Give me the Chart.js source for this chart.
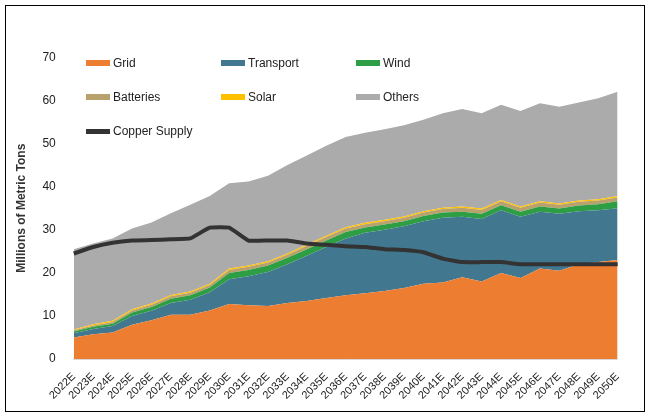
<!DOCTYPE html>
<html><head><meta charset="utf-8">
<script src="https://cdn.jsdelivr.net/npm/chart.js@4"></script>
<style>
body{margin:0;background:#fff;font-family:"Liberation Sans",Arial,sans-serif;}
#frame{position:absolute;left:5px;top:5px;width:638px;height:405px;border:1px solid #000;}
#wrap{position:absolute;left:10px;top:40px;width:620px;height:365px;}
.lg{position:absolute;font-size:12px;color:#222;display:flex;align-items:center;}
.sw{display:inline-block;width:24px;height:6px;margin-right:3px;}
</style></head>
<body>
<div id="frame"></div>
<div id="wrap"><canvas id="c"></canvas></div>
<div id="legend"></div>
<script>
var years = [];
for (var y = 2022; y <= 2050; y++) years.push(y + "E");
var grid = [5,5.8,6.2,8,9,10.3,10.3,11.3,12.8,12.5,12.3,13,13.5,14.2,14.8,15.3,15.8,16.5,17.5,17.8,19,18,20,18.8,21,20.5,22,22.5,23];
var transport = [1,1.2,1.5,2,2.2,2.7,3.5,4.2,5.7,6.7,7.9,9,10.5,11.8,13.2,14,14.2,14.3,14.5,15,14,14.5,14.5,14.2,13.2,13.2,12.3,12,12];
var wind = [0.4,0.5,0.5,0.8,0.9,1,1,1.1,1.5,1.5,1.5,1.5,1.5,1.5,1.5,1.2,1.2,1.2,1.2,1.2,1.2,1.2,1.2,1.2,1.2,1.2,1.3,1.4,1.6];
var batteries = [0.3,0.3,0.4,0.5,0.5,0.6,0.6,0.6,0.7,0.7,0.7,0.7,0.8,0.8,0.8,0.8,0.8,0.8,0.8,0.8,0.9,0.9,0.9,0.9,0.9,0.9,0.9,0.9,0.9];
var solar = [0.2,0.3,0.3,0.3,0.3,0.3,0.3,0.3,0.3,0.3,0.3,0.3,0.3,0.3,0.3,0.3,0.3,0.3,0.3,0.3,0.3,0.3,0.3,0.3,0.3,0.3,0.3,0.3,0.3];
var others = [18.6,18.7,19.1,18.7,18.8,18.9,20.1,20.3,19.8,19.5,19.8,20.5,20.6,20.9,20.9,20.9,21,21.1,21.2,21.9,22.6,22.1,22.1,22.1,22.7,22.4,22.7,23.4,24.2];
var copperSupply = [24.5,26,27,27.5,27.6,27.8,28,30.5,30.5,27.5,27.5,27.5,26.8,26.5,26.2,26,25.5,25.3,24.8,23.3,22.5,22.5,22.5,22,22,22,22,22,22];

var series = [
	{ label: "Grid", data: grid, color: "#ED7D31" },
	{ label: "Transport", data: transport, color: "#41788F" },
	{ label: "Wind", data: wind, color: "#2E9E45" },
	{ label: "Batteries", data: batteries, color: "#B9A16E" },
	{ label: "Solar", data: solar, color: "#FFC000" },
	{ label: "Others", data: others, color: "#ABABAB" }
];

var datasets = [{
	label: "Copper Supply", data: copperSupply, stack: "cu", order: 0,
	borderColor: "#333", borderWidth: 4, pointRadius: 0, fill: false, tension: 0.1
}];
for (var i = 0; i < series.length; i++) {
	datasets.push({
		label: series[i].label, data: series[i].data, stack: "a", order: 1,
		borderColor: series[i].color, backgroundColor: series[i].color,
		borderWidth: 0, pointRadius: 0, fill: i === 0 ? "origin" : "-1", tension: 0
	});
}

// legend, 3 columns
var items = series.concat([{ label: "Copper Supply", color: "#333", line: true }]);
var lg = document.getElementById("legend");
for (var i = 0; i < items.length; i++) {
	var d = document.createElement("div");
	d.className = "lg";
	d.style.left = (86 + (i % 3) * 135) + "px";
	d.style.top = (56 + Math.floor(i / 3) * 34) + "px";
	d.innerHTML = '<span class="sw" style="background:' + items[i].color + ';height:' + (items[i].line ? 5 : 6) + 'px"></span>' + items[i].label;
	lg.appendChild(d);
}

new Chart(document.getElementById("c"), {
	type: "line",
	data: { labels: years, datasets: datasets },
	options: {
		responsive: true, maintainAspectRatio: false, animation: false,
		layout: { padding: { top: 16, right: 12 } },
		scales: {
			x: {
				grid: { display: false },
				border: { color: "#d9d9d9" },
				ticks: { color: "#222", font: { size: 11, family: "Liberation Sans" }, maxRotation: 45, minRotation: 45, autoSkip: false }
			},
			y: {
				stacked: true, min: 0, max: 70,
				grid: { display: false },
				border: { display: false },
				ticks: { stepSize: 10, color: "#222", font: { size: 12, family: "Liberation Sans" }, padding: 10 },
				title: { display: true, text: "Millions of Metric Tons", color: "#333", font: { size: 12, weight: "bold", family: "Liberation Sans" } }
			}
		},
		plugins: { legend: { display: false }, tooltip: { enabled: false } }
	}
});
</script>
</body></html>
